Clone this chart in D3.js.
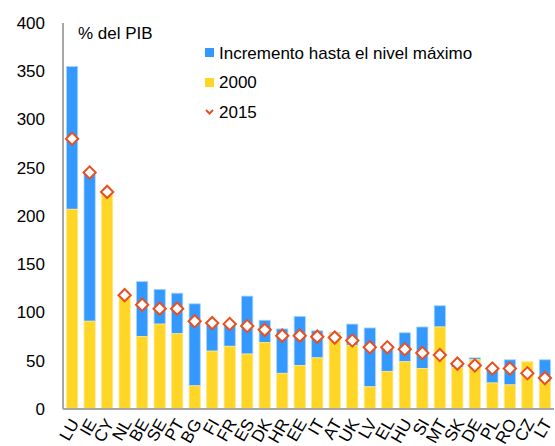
<!DOCTYPE html>
<html>
<head>
<meta charset="utf-8">
<script src="https://cdn.jsdelivr.net/npm/d3@7"></script>
<style>
  body { margin: 0; background: #fff; }
  svg { font-family: "Liberation Sans", Arial, sans-serif; }
</style>
</head>
<body>
<svg id="chart" width="555" height="446"></svg>
<script>
const countries = ['LU','IE','CY','NL','BE','SE','PT','BG','FI','FR','ES','DK','HR','EE','IT','AT','UK','LV','EL','HU','SI','MT','SK','DE','PL','RO','CZ','LT']
const v2000 = [207, 91, 224, 116, 75, 88, 78, 24, 60, 65, 57, 69, 37, 45, 53, 78, 66, 23, 39, 49, 42, 85, 43, 51, 27, 25, 49, 28]
const vMax = [355, 245, 224, 116, 132, 124, 120, 109, 89, 88, 117, 92, 83, 96, 81, 79, 88, 84, 65, 79, 85, 107, 47, 53, 43, 51, 49, 51]
const v2015 = [280, 245, 225, 118, 108, 104, 104, 91, 89, 88, 86, 82, 76, 76, 75, 74, 71, 64, 64, 62, 58, 56, 47, 45, 42, 42, 37, 32]
const yTicks = [0, 50, 100, 150, 200, 250, 300, 350, 400]
const legendLabels = ['Incremento hasta el nivel máximo', '2000', '2015']

const blue = '#3399ff', yellow = '#ffd625', red = '#e8501f'

const svg = d3.select('#chart')
const x = d3.scaleBand().domain(countries).range([63, 554]).paddingInner(0.36).paddingOuter(0.2)
const y = d3.scaleLinear().domain([0, 400]).range([409, 23])

// y axis labels
svg.append('g')
	.selectAll('text')
	.data(yTicks)
	.enter()
	.append('text')
	.attr('x', 45)
	.attr('y', d => y(d))
	.attr('dy', '0.35em')
	.attr('text-anchor', 'end')
	.attr('font-size', 17)
	.attr('fill', '#000')
	.text(d => d)

const rows = countries.map((c, i) => ({ c, a: v2000[i], m: vMax[i], p: v2015[i] }))

// increment bars
svg.append('g')
	.selectAll('rect')
	.data(rows.filter(d => d.m > d.a))
	.enter()
	.append('rect')
	.attr('x', d => x(d.c))
	.attr('width', x.bandwidth())
	.attr('y', d => y(d.m))
	.attr('height', d => y(d.a) - y(d.m))
	.attr('fill', blue)
	.attr('stroke', '#a9d2fb')
	.attr('stroke-width', 0.8)

// 2000 bars
svg.append('g')
	.selectAll('rect')
	.data(rows)
	.enter()
	.append('rect')
	.attr('x', d => x(d.c))
	.attr('width', x.bandwidth())
	.attr('y', d => y(d.a))
	.attr('height', d => y(0) - y(d.a))
	.attr('fill', yellow)
	.attr('stroke', '#ffe98a')
	.attr('stroke-width', 0.8)

// axes lines
svg.append('line').attr('x1', 63).attr('x2', 63).attr('y1', 23).attr('y2', 409)
	.attr('stroke', '#a6a6a6').attr('stroke-width', 2)
svg.append('line').attr('x1', 63).attr('x2', 554).attr('y1', 409).attr('y2', 409)
	.attr('stroke', '#a6a6a6').attr('stroke-width', 2)

// 2015 diamonds
const diamond = d3.symbol().type(d3.symbolSquare).size(75)
svg.append('g')
	.selectAll('path')
	.data(rows)
	.enter()
	.append('path')
	.attr('d', diamond)
	.attr('transform', d => `translate(${x(d.c) + x.bandwidth() / 2},${y(d.p)}) rotate(45)`)
	.attr('fill', '#fff')
	.attr('stroke', red)
	.attr('stroke-width', 2)

// x labels
svg.append('g')
	.selectAll('text')
	.data(countries)
	.enter()
	.append('text')
	.attr('transform', d => `translate(${x(d) + x.bandwidth() / 2 - 3},${417}) rotate(-60)`)
	.attr('text-anchor', 'end')
	.attr('dy', '0.72em')
	.attr('font-size', 17)
	.attr('fill', '#000')
	.text(d => d)

// unit label
svg.append('text').attr('x', 78).attr('y', 39).attr('font-size', 17).attr('fill', '#000').text('% del PIB')

// legend
const lg = svg.append('g')
lg.append('rect').attr('x', 205).attr('y', 48).attr('width', 9).attr('height', 9).attr('fill', blue)
lg.append('rect').attr('x', 205).attr('y', 78).attr('width', 9).attr('height', 9).attr('fill', yellow)
lg.append('path').attr('d', 'M206,110 L209.5,113.5 L213,110')
	.attr('fill', 'none').attr('stroke', red).attr('stroke-width', 2)
legendLabels.forEach((t, i) => {
	lg.append('text')
		.attr('x', 219)
		.attr('y', 53 + i * 29.3)
		.attr('dy', '0.35em')
		.attr('font-size', 17)
		.attr('fill', '#000')
		.text(t)
})
</script>
</body>
</html>
